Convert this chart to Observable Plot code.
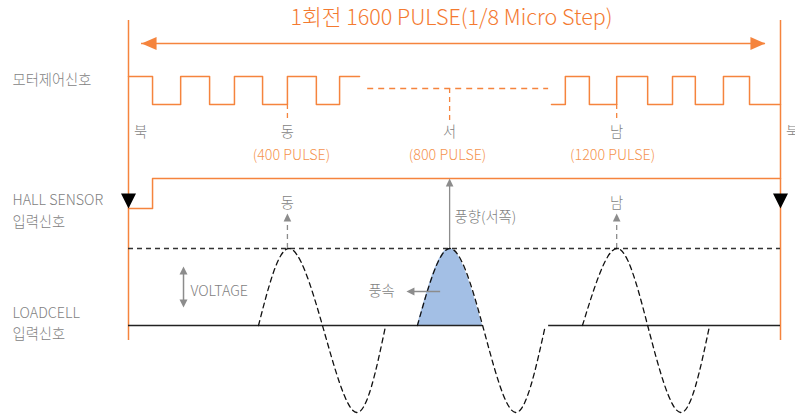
<!DOCTYPE html>
<html><head><meta charset="utf-8">
<script src="https://cdn.jsdelivr.net/npm/d3@7"></script>
<script src="https://cdn.jsdelivr.net/npm/@observablehq/plot@0.6"></script>
<style>html,body{margin:0;padding:0;background:#fff;overflow:hidden}</style>
</head><body><div id="chart"></div>
<script>
// ---------- data (x in pulses, 0..1600 = one revolution) ----------
const titleText = "1회전 1600 PULSE(1/8 Micro Step)";
const totalPulses = 1600;
const rowLabels = ["모터제어신호", "HALL SENSOR\n입력신호", "LOADCELL\n입력신호"];
const arrowTips = [32, 1563];

// motor control pulse train (edge positions and levels, 1 = high)
const motorEdgesA = [0, 59, 128, 199, 260, 329, 390, 461, 518, 567];
const motorLevelsA = [1, 0, 1, 0, 1, 0, 1, 0, 1, 1];
const motorEdgesB = [1038, 1072, 1131, 1198, 1274, 1335, 1391, 1460, 1524, 1600];
const motorLevelsB = [0, 1, 0, 1, 0, 1, 0, 1, 0, 0];
const motorGap = [587, 1031];

// compass directions
const compassNames = ["동", "서", "남"];
const compassPulse = [390, 788, 1198];
const tickStart = ["low", "mid", "low"];
const northPulse = [0, 1600];
const pulseLabels = ["(400 PULSE)", "(800 PULSE)", "(1200 PULSE)"];
const pulseLabelX = [400, 783, 1188];

// hall sensor
const hallEdges = [0, 59, 1600];
const hallLevels = [0, 1, 1];

// wind direction arrows
const windLabels = ["동", "풍향(서쪽)", "남"];
const windDashed = [true, false, true];

// load cell waves (normalized voltage)
const waveA = [319, 393, 476, 560, 631];
const waveB = [709, 788, 869, 950, 1023];
const waveC = [1114, 1198, 1274, 1355, 1426];
const waveLevels = [0, 1, 0, -1.13, 0];
const baselineSegments = [[0, 869], [1031, 1600]];
const voltageX = 135;
const windSpeedLabel = "풍속";
const windSpeedLabelX = 621;
const windSpeedArrow = [766, 682];

// ---------- layout / style ----------
const Y = {title: 18, arrow: 43, frameTop: 20, frameBottom: 340,
  motorHigh: 76, motorLow: 104, motorMid: 88, tickEnd: 121,
  compass: 132, pulseLabel: 155, hallHigh: 178, hallLow: 208,
  windLabel: 203, windSide: 217, shortTip: 213, longTip: 178,
  peak: 248, base: 325, voltTop: 266, voltBottom: 307, side: 291};
const orange = "#f5843d", titleOrange = "#f47a30", labelOrange = "#f5944f";
const gray = "#7f7f7f", arrowGray = "#8c8c8c", ink = "#222", blue = "#a3bfe5";
const font = "'Noto Sans CJK KR', 'Noto Sans', sans-serif";

const motorY = v => v ? Y.motorHigh : Y.motorLow;
const hallY = v => v ? Y.hallHigh : Y.hallLow;
const waveY = v => Y.base - v * (Y.base - Y.peak);

const motorA = motorEdgesA.map((p, i) => ({p, v: motorLevelsA[i]}));
const motorB = motorEdgesB.map((p, i) => ({p, v: motorLevelsB[i]}));
const hall = hallEdges.map((p, i) => ({p, v: hallLevels[i]}));
const waves = [waveA, waveB, waveC].flatMap((w, k) => w.map((p, i) => ({k, p, v: waveLevels[i]})));
const hump = waveB.slice(0, 3).map((p, i) => ({p, v: waveLevels[i]}));
const compass = compassNames.map((name, i) => ({name, p: compassPulse[i], start: tickStart[i],
  wind: windLabels[i], dashed: windDashed[i]}));
const startY = s => s === "mid" ? Y.motorMid : Y.motorLow;

const txt = {fontFamily: font, fontSize: 14.3, fontWeight: 300};
const head = (data, o) => Plot.vector(data, {shape: "spike", anchor: "end", stroke: "none", ...o});

const plot = Plot.plot({
  width: 795, height: 419,
  marginLeft: 0, marginRight: 0, marginTop: 0, marginBottom: 0,
  x: {domain: [0, totalPulses], range: [128, 780], axis: null},
  y: {domain: [0, 419], range: [0, 419], axis: null},
  style: {background: "#fff", overflow: "hidden"},
  marks: [
    // title + revolution arrow
    Plot.text([titleText], {x: () => totalPulses / 2, y: () => Y.title, text: d => d, dx: -3,
      fill: titleOrange, fontFamily: font, fontSize: 21.5, fontWeight: 300}),
    Plot.ruleY([Y.arrow], {x1: arrowTips[0], x2: arrowTips[1], stroke: orange, strokeWidth: 1.5}),
    head(arrowTips, {x: d => d, y: () => Y.arrow, rotate: (d, i) => i ? 90 : 270, length: 15, r: 6.5, fill: orange}),
    // frame verticals
    Plot.ruleX(northPulse, {x: d => d, y1: Y.frameTop, y2: Y.frameBottom, stroke: orange, strokeWidth: 1.5}),
    // motor pulses
    Plot.line(motorA, {x: "p", y: d => motorY(d.v), curve: "step-after", stroke: orange, strokeWidth: 1.5}),
    Plot.line(motorB, {x: "p", y: d => motorY(d.v), curve: "step-after", stroke: orange, strokeWidth: 1.5}),
    Plot.ruleY([Y.motorMid], {x1: motorGap[0], x2: motorGap[1], stroke: orange, strokeWidth: 1.3, strokeDasharray: "6,5"}),
    Plot.ruleX(compass, {x: "p", y1: d => startY(d.start), y2: Y.tickEnd, stroke: orange, strokeWidth: 1.3, strokeDasharray: "5,4"}),
    // compass labels
    Plot.text(compass, {x: "p", y: () => Y.compass, text: "name", fill: gray, ...txt}),
    Plot.text(northPulse, {x: d => d, y: () => Y.compass, text: () => "북", dx: 12, fill: gray, ...txt}),
    Plot.text(pulseLabels, {x: (d, i) => pulseLabelX[i], y: () => Y.pulseLabel, text: d => d, fill: labelOrange, ...txt}),
    // hall sensor
    Plot.line(hall, {x: "p", y: d => hallY(d.v), curve: "step-after", stroke: orange, strokeWidth: 1.5}),
    head(northPulse, {x: d => d, y: () => Y.hallLow, rotate: 180, length: 15, r: 7.5, fill: "#000"}),
    // wind direction arrows
    Plot.ruleX(compass.filter(d => d.dashed), {x: "p", y1: Y.peak, y2: Y.shortTip + 8, stroke: arrowGray, strokeWidth: 1.3, strokeDasharray: "5,4"}),
    Plot.ruleX(compass.filter(d => !d.dashed), {x: "p", y1: Y.peak, y2: Y.longTip + 8, stroke: arrowGray, strokeWidth: 1.3}),
    head(compass, {x: "p", y: d => d.dashed ? Y.shortTip : Y.longTip, rotate: 0, length: 8, r: 3.8, fill: arrowGray}),
    Plot.text(compass.filter(d => d.dashed), {x: "p", y: () => Y.windLabel, text: "wind", fill: gray, ...txt}),
    Plot.text(compass.filter(d => !d.dashed), {x: "p", y: () => Y.windSide, text: "wind", dx: 5, textAnchor: "start", fill: gray, ...txt}),
    // load cell
    Plot.areaY(hump, {x: "p", y1: () => Y.base, y2: d => waveY(d.v), curve: "natural", fill: blue}),
    Plot.ruleY([Y.peak], {x1: 0, x2: totalPulses, stroke: "#333", strokeWidth: 1.3, strokeDasharray: "5,4"}),
    Plot.ruleY(baselineSegments, {x1: d => d[0], x2: d => d[1], y: () => Y.base, stroke: ink, strokeWidth: 1.4}),
    Plot.line(waves, {x: "p", y: d => waveY(d.v), z: "k", curve: "natural", stroke: "#111", strokeWidth: 1.3, strokeDasharray: "5,4"}),
    // voltage arrow
    Plot.ruleX([voltageX], {x: d => d, y1: Y.voltTop + 7, y2: Y.voltBottom - 7, stroke: arrowGray, strokeWidth: 1.5}),
    head([0, 1], {x: () => voltageX, y: d => d ? Y.voltBottom : Y.voltTop, rotate: d => d ? 180 : 0, length: 8, r: 4, fill: arrowGray}),
    Plot.text(["VOLTAGE"], {x: () => voltageX, y: () => Y.side, text: d => d, dx: 7, textAnchor: "start", fill: gray, ...txt}),
    // wind speed arrow
    Plot.ruleY([Y.side], {x1: windSpeedArrow[0], x2: windSpeedArrow[1] + 15, stroke: arrowGray, strokeWidth: 1.5}),
    head([windSpeedArrow[1]], {x: d => d, y: () => Y.side, rotate: 270, length: 8, r: 4, fill: arrowGray}),
    Plot.text([windSpeedLabel], {x: () => windSpeedLabelX, y: () => Y.side, text: d => d, fill: gray, ...txt}),
    // row labels
    Plot.text(rowLabels, {frameAnchor: "left", y: (d, i) => [78, 208.5, 321][i], text: d => d, dx: 12,
      textAnchor: "start", lineHeight: 1.5, fill: gray, ...txt})
  ]
});
document.getElementById("chart").append(plot);
</script>
</body></html>
